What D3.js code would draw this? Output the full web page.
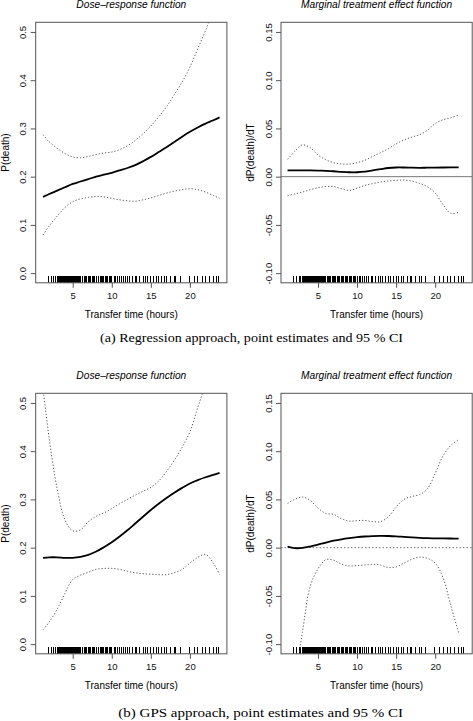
<!DOCTYPE html>
<html><head><meta charset="utf-8">
<script src="https://cdn.jsdelivr.net/npm/d3@7"></script>
<style>body{margin:0;background:#fff}svg{display:block}</style>
</head><body>
<script>
// ---------- data ----------
const tDose = [1.2, 2, 3, 4, 5, 6, 7, 8, 9, 10, 11, 12, 13, 14, 15, 16, 17, 18, 19, 20, 21, 22, 23, 23.8];
const tMarg = [1.1, 2, 3, 4, 5, 6, 7, 8, 9, 10, 11, 12, 13, 14, 15, 16, 17, 18, 19, 20, 21, 22, 23];

// (a) Regression approach
const regDose    = [0.158,0.164,0.171,0.178,0.185,0.190,0.195,0.200,0.204,0.208,0.213,0.218,0.224,0.232,0.241,0.251,0.261,0.272,0.283,0.293,0.302,0.310,0.317,0.323];
const regDoseHi  = [0.287,0.272,0.259,0.248,0.241,0.239,0.242,0.246,0.249,0.251,0.256,0.264,0.275,0.289,0.305,0.324,0.345,0.370,0.396,0.427,0.465,0.503,0.545,0.580];
const regDoseLo  = [0.079,0.098,0.118,0.136,0.148,0.154,0.157,0.159,0.158,0.155,0.152,0.150,0.149,0.152,0.156,0.161,0.166,0.170,0.173,0.175,0.173,0.168,0.161,0.155];
const regMarg    = [0.0065,0.0066,0.0066,0.0065,0.0063,0.0060,0.0056,0.0050,0.0046,0.0046,0.0052,0.0065,0.0078,0.0090,0.0095,0.0095,0.0093,0.0092,0.0093,0.0094,0.0095,0.0096,0.0097];
const regMargHi  = [0.018,0.026,0.033,0.030,0.0225,0.0175,0.0145,0.0132,0.013,0.0145,0.017,0.021,0.0248,0.029,0.034,0.038,0.041,0.0435,0.048,0.055,0.059,0.061,0.064];
const regMargLo  = [-0.0197,-0.018,-0.016,-0.0135,-0.0115,-0.0102,-0.0102,-0.0125,-0.0142,-0.012,-0.009,-0.0072,-0.0055,-0.0045,-0.0038,-0.0036,-0.0045,-0.007,-0.0105,-0.017,-0.029,-0.038,-0.037];

// (b) GPS approach
const gpsDose    = [0.179,0.180,0.180,0.179,0.179,0.181,0.185,0.192,0.201,0.211,0.223,0.236,0.250,0.264,0.278,0.291,0.303,0.314,0.324,0.333,0.340,0.346,0.351,0.355];
const gpsDoseHi  = [0.530,0.425,0.323,0.258,0.235,0.237,0.254,0.265,0.272,0.281,0.291,0.300,0.309,0.317,0.325,0.338,0.358,0.381,0.408,0.440,0.490,0.540,0.600,0.650];
const gpsDoseLo  = [0.030,0.046,0.072,0.105,0.134,0.143,0.149,0.155,0.157,0.157,0.155,0.151,0.148,0.146,0.145,0.144,0.144,0.148,0.155,0.168,0.180,0.186,0.168,0.144];
const gpsMarg    = [0.001,-0.0005,-0.0003,0.0012,0.0032,0.0053,0.0072,0.0087,0.0099,0.0109,0.0116,0.0120,0.0122,0.0121,0.0118,0.0112,0.0106,0.0101,0.0098,0.0097,0.0096,0.0095,0.0094];
const gpsMargHi  = [0.0459,0.050,0.0525,0.049,0.041,0.0355,0.0345,0.030,0.0275,0.028,0.0282,0.027,0.027,0.032,0.042,0.050,0.053,0.055,0.061,0.077,0.095,0.106,0.112];
const gpsMargLo  = [-0.19,-0.14,-0.088,-0.04,-0.022,-0.0125,-0.013,-0.017,-0.019,-0.0185,-0.018,-0.0173,-0.018,-0.0205,-0.020,-0.016,-0.012,-0.0098,-0.011,-0.016,-0.031,-0.060,-0.088];

// observed transfer times (rug)
const rugTimes = [1.9,2.3,2.6,2.8,3.0,3.1,3.2,3.3,3.4,3.5,3.6,3.7,3.8,3.9,4.0,4.1,4.2,4.3,4.4,4.5,4.6,4.7,4.8,4.9,5.0,5.1,5.2,5.3,5.4,5.5,5.6,5.7,5.8,5.9,6.0,6.2,6.3,6.5,6.6,6.8,7.0,7.1,7.3,7.5,7.6,7.8,8.0,8.1,8.3,8.5,8.7,8.8,9.0,9.2,9.3,9.5,9.7,9.8,10.0,10.3,10.5,10.7,11.0,11.2,11.5,11.8,12.0,12.3,12.7,13.0,13.2,13.6,14.0,14.3,14.6,15.0,15.3,15.7,16.0,16.4,16.8,17.0,17.5,18.0,18.2,18.8,19.9,20.6,21.0,21.6,22.0,22.5,23.0,23.4,23.6];

const xTicks = [5, 10, 15, 20];
const doseTicks = [0.0, 0.1, 0.2, 0.3, 0.4, 0.5];
const margTicks = [-0.10, -0.05, 0.00, 0.05, 0.10, 0.15];
const doseTitle = "Dose\u2013response function";
const margTitle = "Marginal treatment effect function";
const xLabel = "Transfer time (hours)";
const captions = ["(a) Regression approach, point estimates and 95 % CI", "(b) GPS approach, point estimates and 95 % CI"];

// ---------- drawing ----------
const W = 473, H = 721;
const svg = d3.select("body").append("svg").attr("width", W).attr("height", H);
const sans = "'Liberation Sans', Arial, sans-serif";
const boxCol = "#555";

const rowTop = [22.3, 393.3];
const plotH = 260.5;
const colLeft = [35.7, 281];
const plotW = 191.2;

let clipId = 0;
function panel(x0, y0, opts) {
  const x = d3.scaleLinear().domain([0.263, 24.737]).range([x0, x0 + plotW]);
  const y = d3.scaleLinear().domain(opts.ydom).range([y0 + plotH, y0]);
  const g = svg.append("g");
  const id = "clip" + (clipId++);
  svg.append("clipPath").attr("id", id).append("rect")
    .attr("x", x0).attr("y", y0).attr("width", plotW).attr("height", plotH);

  g.append("text").attr("x", x0 + plotW / 2).attr("y", y0 - 14.8)
    .attr("text-anchor", "middle").attr("font-family", sans).attr("font-style", "italic")
    .attr("font-size", 10.2).text(opts.title);

  const xa = g.append("g").attr("transform", `translate(0,${y0 + plotH})`)
    .call(d3.axisBottom(x).tickValues(xTicks).tickSize(5).tickSizeOuter(0).tickPadding(4).tickFormat(d3.format("d")));
  xa.select(".domain").remove();
  xa.selectAll("line").attr("stroke", boxCol);
  xa.selectAll("text").attr("font-family", sans).attr("font-size", 9.5).attr("fill", "#111");

  const ya = g.append("g").attr("transform", `translate(${x0},0)`)
    .call(d3.axisLeft(y).tickValues(opts.yticks).tickSize(5).tickSizeOuter(0).tickFormat(opts.yfmt));
  ya.select(".domain").remove();
  ya.selectAll("line").attr("stroke", boxCol);
  ya.selectAll("text").attr("x", 0).attr("y", 0).attr("dy", 0)
    .attr("transform", "translate(-9.5,0) rotate(-90)")
    .attr("text-anchor", "middle").attr("font-family", sans).attr("font-size", 9.5).attr("fill", "#111");

  g.append("text").attr("x", x0 + plotW / 2).attr("y", y0 + plotH + 35.5)
    .attr("text-anchor", "middle").attr("font-family", sans).attr("font-size", 10).text(xLabel);
  g.append("text").attr("transform", `translate(${x0 - 27},${y0 + plotH / 2}) rotate(-90)`)
    .attr("text-anchor", "middle").attr("font-family", sans).attr("font-size", 10).text(opts.ylab);

  const inner = g.append("g").attr("clip-path", `url(#${id})`);

  if (opts.zero) {
    inner.append("line").attr("x1", x0).attr("x2", x0 + plotW)
      .attr("y1", y(0)).attr("y2", y(0))
      .attr("stroke", "#777").attr("stroke-width", 1)
      .attr("stroke-dasharray", opts.zero === "dotted" ? "1.5,2" : null);
  }

  inner.append("g").selectAll("line").data(rugTimes).join("line")
    .attr("x1", d => x(d)).attr("x2", d => x(d))
    .attr("y1", y0 + plotH - 6.5).attr("y2", y0 + plotH)
    .attr("stroke", "#000").attr("stroke-width", 1).attr("shape-rendering", "crispEdges");

  const line = d3.line().x(d => x(d[0])).y(d => y(d[1])).curve(d3.curveCatmullRom.alpha(0.5));
  const mk = (ts, vs) => ts.map((t, i) => [t, vs[i]]);
  inner.append("path").attr("d", line(mk(opts.t, opts.hi))).attr("fill", "none")
    .attr("stroke", "#555").attr("stroke-width", 1).attr("stroke-dasharray", "1.2,2");
  inner.append("path").attr("d", line(mk(opts.t, opts.lo))).attr("fill", "none")
    .attr("stroke", "#555").attr("stroke-width", 1).attr("stroke-dasharray", "1.2,2");
  inner.append("path").attr("d", line(mk(opts.t, opts.est))).attr("fill", "none")
    .attr("stroke", "#000").attr("stroke-width", 1.8);

  g.append("rect").attr("x", x0).attr("y", y0).attr("width", plotW).attr("height", plotH)
    .attr("fill", "none").attr("stroke", boxCol).attr("stroke-width", 1);
}

const f1 = d3.format(".1f");
const fm = d => d3.format(".2f")(d).replace("\u2212", "-");

panel(colLeft[0], rowTop[0], {ydom: [-0.02, 0.52], yticks: doseTicks, yfmt: f1, title: doseTitle, ylab: "P(death)",
  t: tDose, est: regDose, hi: regDoseHi, lo: regDoseLo});
panel(colLeft[1], rowTop[0], {ydom: [-0.11, 0.16], yticks: margTicks, yfmt: fm, title: margTitle, ylab: "dP(death)/dT",
  t: tMarg, est: regMarg, hi: regMargHi, lo: regMargLo, zero: "solid"});
panel(colLeft[0], rowTop[1], {ydom: [-0.02, 0.52], yticks: doseTicks, yfmt: f1, title: doseTitle, ylab: "P(death)",
  t: tDose, est: gpsDose, hi: gpsDoseHi, lo: gpsDoseLo});
panel(colLeft[1], rowTop[1], {ydom: [-0.11, 0.16], yticks: margTicks, yfmt: fm, title: margTitle, ylab: "dP(death)/dT",
  t: tMarg, est: gpsMarg, hi: gpsMargHi, lo: gpsMargLo, zero: "dotted"});

const serif = "'Liberation Serif', 'DejaVu Serif', serif";
svg.append("text").attr("x", 100).attr("y", 342)
  .attr("font-family", serif).attr("font-size", 13.5)
  .attr("textLength", 303).attr("lengthAdjust", "spacingAndGlyphs").text(captions[0]);
svg.append("text").attr("x", 118.3).attr("y", 716.5)
  .attr("font-family", serif).attr("font-size", 13.5)
  .attr("textLength", 284.7).attr("lengthAdjust", "spacingAndGlyphs").text(captions[1]);
</script>
</body></html>
